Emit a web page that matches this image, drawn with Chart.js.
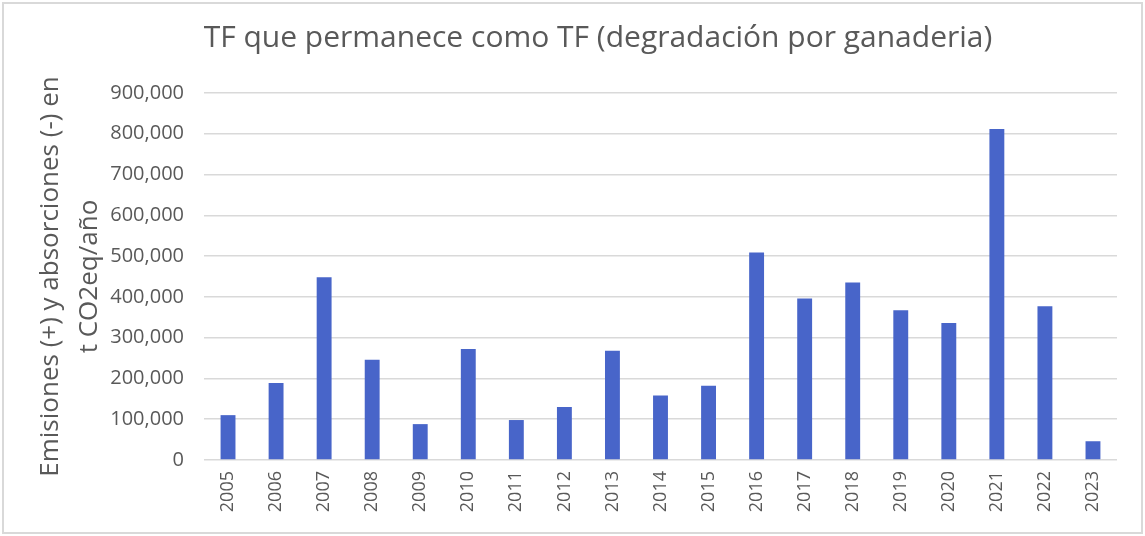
<!DOCTYPE html>
<html>
<head>
<meta charset="utf-8">
<script src="https://cdn.jsdelivr.net/npm/chart.js@4"></script>
<style>
  html, body { margin: 0; padding: 0; background: #ffffff; }
  #wrap { position: relative; width: 1145px; height: 536px; }
</style>
</head>
<body>
<div id="wrap"><canvas id="c" width="1145" height="536"></canvas></div>
<script>
const chartTitle = 'TF que permanece como TF (degradación por ganaderia)';
const yAxisTitle = ['Emisiones (+) y absorciones (-) en', 't CO2eq/año'];
const years = ['2005','2006','2007','2008','2009','2010','2011','2012','2013','2014','2015','2016','2017','2018','2019','2020','2021','2022','2023'];
const emissions = [110000, 189000, 448000, 246000, 88000, 272000, 98000, 130000, 268000, 158000, 182000, 509000, 396000, 435000, 367000, 336000, 812000, 377000, 46000];
const yTicks = [0, 100000, 200000, 300000, 400000, 500000, 600000, 700000, 800000, 900000];

const textColor = '#595959';
const fontFamily = '"Open Sans", "DejaVu Sans", sans-serif';

const framePlugin = {
  id: 'frame',
  beforeDraw(chart) {
    const ctx = chart.ctx;
    ctx.save();
    ctx.fillStyle = '#ffffff';
    ctx.fillRect(0, 0, chart.width, chart.height);
    ctx.strokeStyle = '#d9d9d9';
    ctx.lineWidth = 2;
    ctx.strokeRect(3, 3, chart.width - 6, chart.height - 6);
    ctx.restore();
  },
  afterDraw(chart) {
    const ctx = chart.ctx;
    ctx.save();
    ctx.fillStyle = textColor;
    ctx.font = '30px ' + fontFamily;
    ctx.textAlign = 'center';
    ctx.textBaseline = 'middle';
    ctx.fillText(chartTitle, 598, 38);
    ctx.restore();
  }
};

new Chart(document.getElementById('c'), {
  type: 'bar',
  data: {
    labels: years,
    datasets: [{
      label: 'Emisiones',
      data: emissions,
      backgroundColor: '#4865C9',
      borderWidth: 0,
      barPercentage: 1,
      categoryPercentage: 0.31
    }]
  },
  plugins: [framePlugin],
  options: {
    responsive: false,
    animation: false,
    devicePixelRatio: 1,
    layout: { padding: { top: 93, right: 28, left: 0, bottom: 0 } },
    plugins: {
      legend: { display: false },
      title: { display: false },
      tooltip: { enabled: false }
    },
    scales: {
      x: {
        grid: { display: false, drawTicks: false },
        border: { display: false },
        ticks: {
          color: textColor,
          font: { family: fontFamily, size: 18 },
          minRotation: 90,
          maxRotation: 90,
          padding: 11,
          autoSkip: false
        },
        afterFit(scale) { scale.height = 76; }
      },
      y: {
        min: 0,
        max: 900000,
        afterBuildTicks(scale) { scale.ticks = yTicks.map(v => ({ value: v })); },
        grid: { color: '#d9d9d9', lineWidth: 1.5, drawTicks: false },
        border: { display: false },
        ticks: {
          color: textColor,
          font: { family: fontFamily, size: 20 },
          padding: 20,
          callback: v => v === 0 ? '0' : Number(v).toLocaleString('en-US')
        },
        title: {
          display: true,
          text: yAxisTitle,
          color: textColor,
          font: { family: fontFamily, size: 26, lineHeight: 1.5 },
          padding: { top: 31, bottom: 0 }
        },
        afterFit(scale) { scale.width = 204; }
      }
    }
  }
});
</script>
</body>
</html>
